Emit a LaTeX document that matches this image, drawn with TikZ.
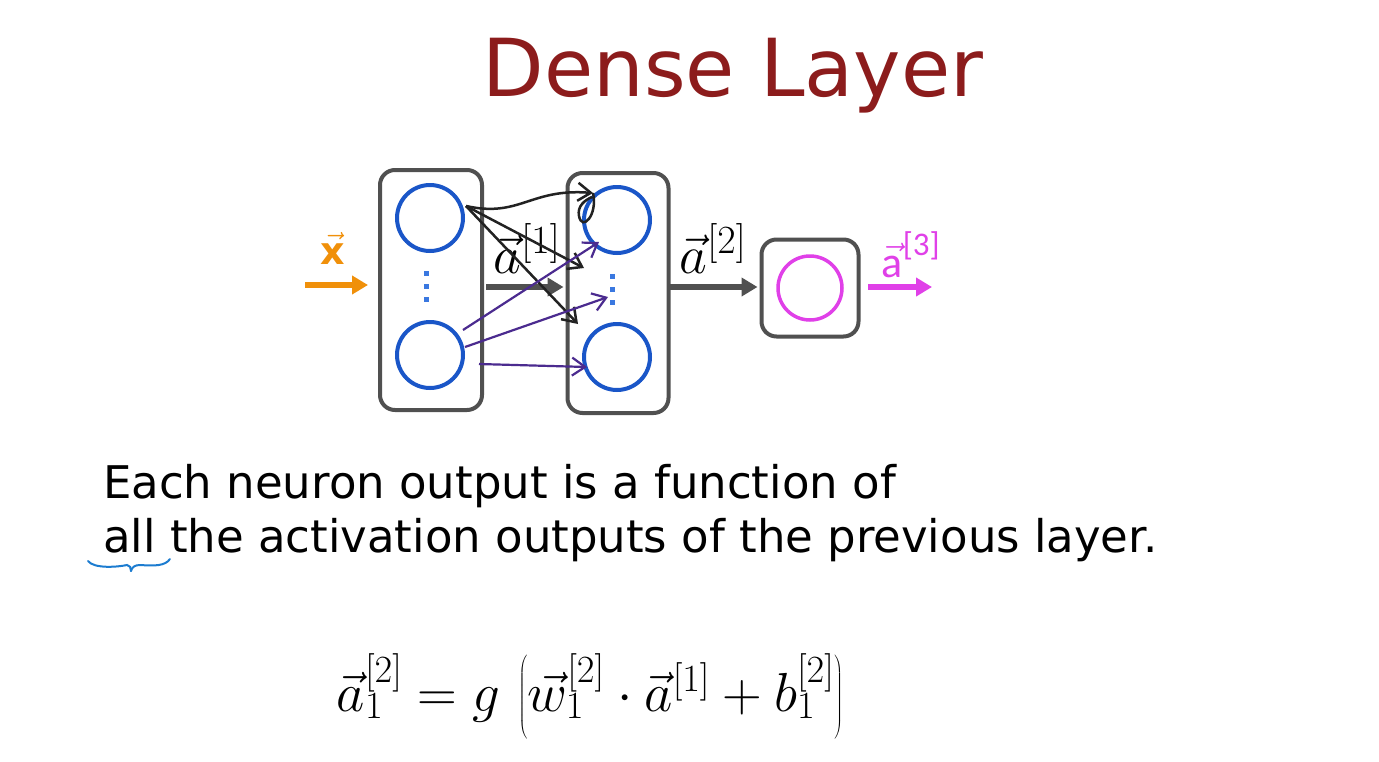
\RequirePackage{fix-cm}
\documentclass[tikz,border=0pt]{standalone}
\usepackage{fontspec}
\setmainfont{DejaVu Sans}
\newfontfamily\carlito{Carlito}
\usetikzlibrary{arrows.meta}
\definecolor{titlered}{HTML}{8C1C1C}
\definecolor{boxgray}{HTML}{505050}
\definecolor{nblue}{HTML}{1A56C8}
\definecolor{dotblue}{HTML}{3A78E0}
\definecolor{xorange}{HTML}{F0900A}
\definecolor{outmag}{HTML}{E040E8}
\definecolor{penpurple}{HTML}{4B2B8F}
\definecolor{penblack}{HTML}{222222}
\definecolor{braceblue}{HTML}{1C7CD0}
\newcommand{\lsup}[1]{\mbox{\fontsize{40}{42}\selectfont$#1$}}
\newcommand{\esup}[1]{\mbox{\fontsize{40}{42}\selectfont$#1$}}
\tikzset{
  layerbox/.style={draw=boxgray, line width=4pt, rounded corners=15pt, inner sep=0pt},
  neuron/.style={circle, draw=nblue, line width=4pt, minimum size=66pt, inner sep=0pt},
  outneuron/.style={circle, draw=outmag, line width=3.5pt, minimum size=64pt, inner sep=0pt},
  dotsq/.style={fill=dotblue, minimum size=5pt, inner sep=0pt},
  flowarrow/.style={draw=boxgray, line width=6pt, -{Triangle[length=16pt,width=18pt]}},
  penblk/.style={draw=penblack, line width=2.5pt, -{Straight Barb[length=13pt,width=18pt]}},
  penpur/.style={draw=penpurple, line width=2.2pt, -{Straight Barb[length=13pt,width=18pt]}},
  lbl/.style={inner sep=0pt},
}
\begin{document}
\begin{tikzpicture}[x=1pt,y=-1pt]
\useasboundingbox (0,0) rectangle (1379,761);
\fill[white] (0,0) rectangle (1379,761);

% title
\node[lbl, text=titlered, anchor=base] (title) at (733,96) {\fontsize{80}{90}\selectfont Dense Layer};

% layer boxes
\node[layerbox, minimum width=102pt, minimum height=240pt] (L1) at (431,290) {};
\node[layerbox, minimum width=101pt, minimum height=240pt] (L2) at (618,293) {};
\node[layerbox, minimum width=97pt, minimum height=97pt] (L3) at (810,288) {};

% neurons
\node[neuron] (n11) at (430,218) {};
\node[neuron] (n12) at (430,355) {};
\node[neuron] (n21) at (617,220) {};
\node[neuron] (n22) at (617,357) {};
\node[outneuron] (n31) at (810,288) {};

% dots
\node[dotsq] (d11) at (426,273) {};
\node[dotsq] (d12) at (426,286) {};
\node[dotsq] (d13) at (426,299) {};
\node[dotsq] (d21) at (612,276) {};
\node[dotsq] (d22) at (612,289) {};
\node[dotsq] (d23) at (612,302) {};

% input
\coordinate (xin) at (305,285);
\draw[draw=xorange, line width=6pt, -{Triangle[length=16pt,width=18pt]}, shorten >=10pt] (xin) -- (L1.west |- xin);
\node[lbl, text=xorange, anchor=base] (xlbl) at (333,264) {\fontsize{38}{40}\selectfont$\vec{\mathbf{x}}$};

% flow arrows
\coordinate (a1s) at (486,287);
\draw[flowarrow, shorten >=2pt] (a1s) -- (L2.west |- a1s);
\node[lbl, anchor=base] (a1lbl) at (527,273) {\fontsize{54}{58}\selectfont$\vec{a}^{\lsup{[1]}}$};
\coordinate (a2s) at (670,287);
\draw[flowarrow, shorten >=2pt] (a2s) -- (L3.west |- a2s);
\node[lbl, anchor=base] (a2lbl) at (713,273) {\fontsize{54}{58}\selectfont$\vec{a}^{\lsup{[2]}}$};

% output
\coordinate (os) at (868,287);
\coordinate (oe) at (932,287);
\draw[draw=outmag, line width=6pt, -{Triangle[length=16pt,width=18pt]}] (os) -- (oe);
\node[lbl, text=outmag, anchor=base] (a3lbl) at (911,277) {\fontsize{44}{46}\selectfont$\vec{\mbox{\carlito a}}^{\mbox{\carlito\fontsize{33}{35}\selectfont[3]}}$};

% hand-drawn annotation arrows (black)
\coordinate (b0) at (466,206);
\coordinate (b1) at (593,193);
\coordinate (b2) at (584,268);
\coordinate (b3) at (578,324);
\draw[penblk] (b0) .. controls (520,218) and (530,188) .. (b1);
\draw[penblack, line width=2.5pt] (b1) .. controls (598,215) and (582,232) .. (579,216) .. controls (577,206) and (585,200) .. (592,197);
\draw[penblk] (b0) -- (b2);
\draw[penblk] (b0) -- (b3);

% hand-drawn annotation arrows (purple)
\coordinate (p1s) at (463,330);
\coordinate (p1e) at (599,242);
\coordinate (p2s) at (465,347);
\coordinate (p2e) at (608,297);
\coordinate (p3s) at (479,364);
\coordinate (p3e) at (587,367);
\draw[penpur] (p1s) -- (p1e);
\draw[penpur] (p2s) -- (p2e);
\draw[penpur] (p3s) -- (p3e);

% text
\node[lbl, anchor=base west] (t1) at (103,498) {\fontsize{45}{50}\selectfont Each neuron output is a function of};
\node[lbl, anchor=base west] (t2) at (103,552) {\fontsize{45}{50}\selectfont all the activation outputs of the previous layer.};

% brace under "all"
\draw[braceblue, line width=2pt, line cap=round] (88,561) .. controls (94,569) and (118,567) .. (127,565) .. controls (130,565) and (131,568) .. (131,571);
\draw[braceblue, line width=2pt, line cap=round] (131,571) .. controls (132,567) and (135,565) .. (140,565) .. controls (155,566) and (165,566) .. (170,559);

% equation
\node[lbl, anchor=base] (eq) at (590,711) {\fontsize{55}{60}\selectfont$\vec{a}_1^{[2]} = g\,\left(\vec{w}_1^{[2]}\cdot\vec{a}^{[1]} + b_1^{[2]}\right)$};
\end{tikzpicture}
\end{document}
